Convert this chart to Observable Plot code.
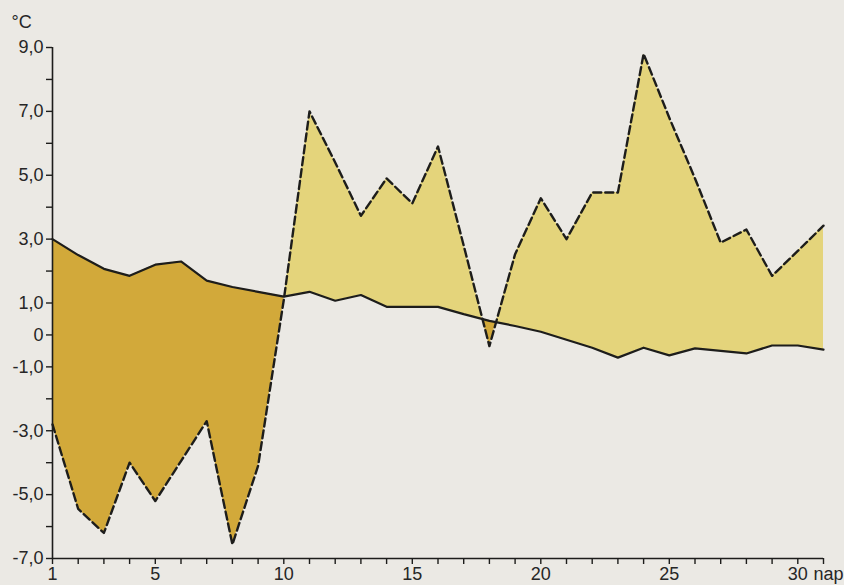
<!DOCTYPE html>
<html>
<head>
<meta charset="utf-8">
<script src="https://cdn.jsdelivr.net/npm/d3@7"></script>
<script src="https://cdn.jsdelivr.net/npm/@observablehq/plot@0.6"></script>
<style>
  html, body { margin: 0; padding: 0; background: #ebe9e4; }
  #chart { width: 844px; height: 585px; }
</style>
</head>
<body>
<div id="chart"></div>
<script>
const days = [1,2,3,4,5,6,7,8,9,10,11,12,13,14,15,16,17,18,19,20,21,22,23,24,25,26,27,28,29,30,31];
const norm = [3.0, 2.5, 2.07, 1.85, 2.2, 2.3, 1.7, 1.5, 1.35, 1.2, 1.35, 1.07, 1.25, 0.88, 0.88, 0.88, 0.65, 0.44, 0.28, 0.1, -0.15, -0.4, -0.71, -0.4, -0.64, -0.42, -0.5, -0.58, -0.33, -0.33, -0.46];
const actual = [-2.8, -5.45, -6.2, -4.0, -5.2, -3.95, -2.7, -6.56, -4.1, 1.1, 7.0, 5.4, 3.73, 4.9, 4.12, 5.9, 2.8, -0.35, 2.53, 4.28, 3.0, 4.46, 4.46, 8.8, 6.8, 4.9, 2.89, 3.3, 1.85, 2.63, 3.42];
const yTicks = [9, 8, 7, 6, 5, 4, 3, 2, 1, 0, -1, -2, -3, -4, -5, -6, -7];
const yLabels = {9: "9,0", 7: "7,0", 5: "5,0", 3: "3,0", 1: "1,0", 0: "0", "-1": "-1,0", "-3": "-3,0", "-5": "-5,0", "-7": "-7,0"};
const xLabels = {1: "1", 5: "5", 10: "10", 15: "15", 20: "20", 25: "25", 30: "30"};
const unitLabel = "nap";

const rows = days.map((d, i) => ({x: d, a: actual[i], n: norm[i]}));
// band geometry: add the points where the two lines cross so the colour fills split exactly
const band = [];
rows.forEach((r, i) => {
  band.push(r);
  const s = rows[i + 1];
  if (s) {
    const d0 = r.a - r.n, d1 = s.a - s.n;
    if (d0 * d1 < 0) {
      const t = d0 / (d0 - d1);
      const v = r.n + t * (s.n - r.n);
      band.push({x: r.x + t * (s.x - r.x), a: v, n: v});
    }
  }
});

const ink = "#1d1d1b";
const txt = "#262626";
const chart = Plot.plot({
  width: 844,
  height: 585,
  marginLeft: 52,
  marginRight: 21,
  marginTop: 47,
  marginBottom: 27,
  style: {background: "#ebe9e4", fontFamily: "'Liberation Sans', Arial, sans-serif", fontSize: "18px", color: txt},
  x: {domain: [1, 31], axis: null},
  y: {domain: [-7, 9], axis: null},
  marks: [
    Plot.areaY(band, {x: "x", y1: d => Math.min(d.a, d.n), y2: "n", fill: "#d2a93a", curve: "linear"}),
    Plot.areaY(band, {x: "x", y1: d => Math.max(d.a, d.n), y2: "n", fill: "#e4d47b", curve: "linear"}),
    Plot.line(rows, {x: "x", y: "n", stroke: ink, strokeWidth: 2.2}),
    Plot.line(rows, {x: "x", y: "a", stroke: ink, strokeWidth: 2.4, strokeDasharray: "8,4"}),
    Plot.ruleX([1], {stroke: ink, strokeWidth: 1.6}),
    Plot.ruleY([-7], {stroke: ink, strokeWidth: 1.6}),
    Plot.axisY({ticks: yTicks, tickFormat: d => yLabels[d] ?? "", tickSize: 6, tickPadding: 3, label: null, stroke: ink, strokeWidth: 1.4, fontSize: 18, fill: txt}),
    Plot.axisX({ticks: days, tickFormat: d => xLabels[d] ?? "", tickSize: 6, tickPadding: 3, label: null, stroke: ink, strokeWidth: 1.4, fontSize: 18, fill: txt}),
    Plot.text([unitLabel], {x: () => 31, y: () => -7, dx: 5, dy: 9, lineAnchor: "top", textAnchor: "middle", fontSize: 18, fill: txt}),
    Plot.text(["°C"], {frameAnchor: "top-left", dx: -41, dy: -20, textAnchor: "start", lineAnchor: "bottom", fontSize: 18, fill: txt})
  ]
});
document.getElementById("chart").appendChild(chart);
</script>
</body>
</html>
